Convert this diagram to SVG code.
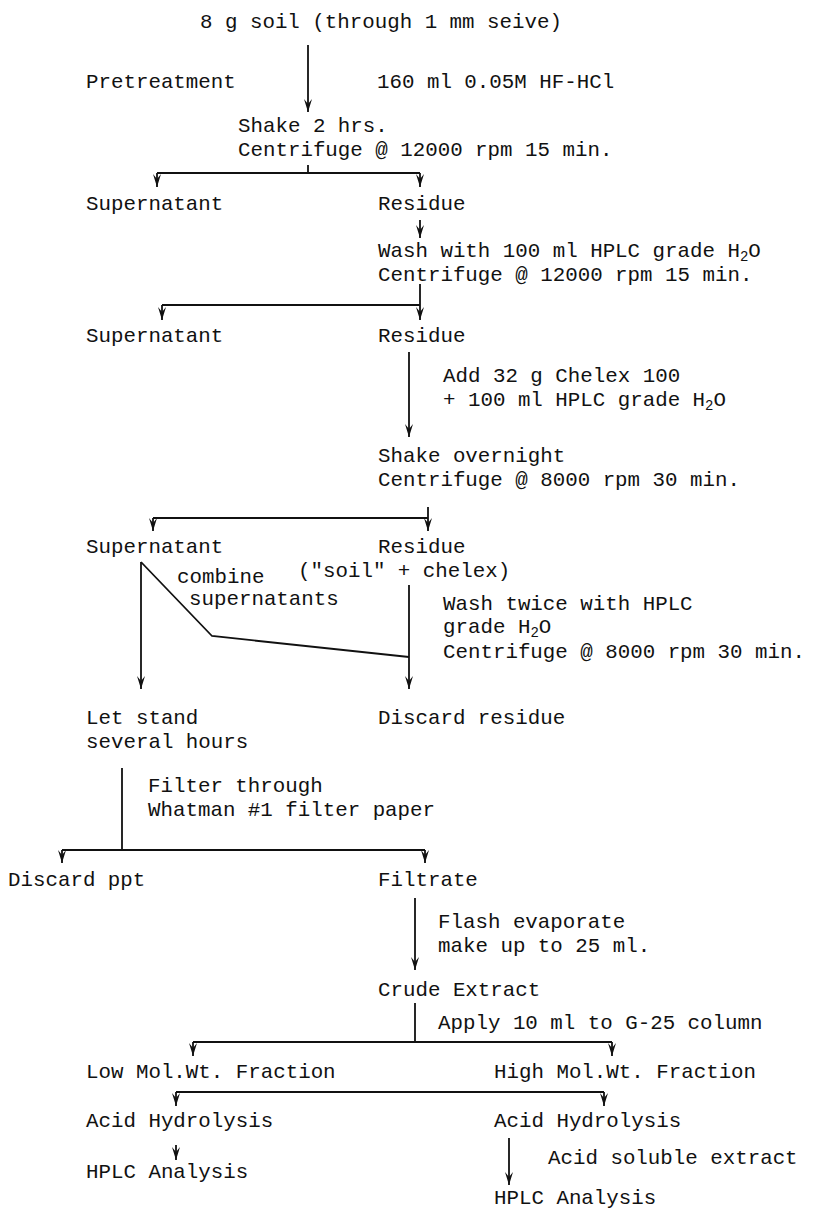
<svg xmlns="http://www.w3.org/2000/svg" width="814" height="1211" viewBox="0 0 814 1211">
<style>
text{font-family:"Liberation Mono","DejaVu Sans Mono",monospace;font-size:20.8px;fill:#111}
.c{stroke:#111;stroke-width:1.8;fill:none}
.s{font-size:14px}
</style>
<defs>
<marker id="ah" markerWidth="14" markerHeight="10" refX="13" refY="5" orient="auto" markerUnits="userSpaceOnUse" viewBox="0 0 14 10">
<path d="M0 1 L13 5 L0 9 L5 5 Z" fill="#111"/>
</marker>
</defs>
<rect width="814" height="1211" fill="#fff"/>
<g id="connectors">
<path class="c" d="M308 45 V112" marker-end="url(#ah)"/>
<path class="c" d="M308 165 V173 M157 173 H420"/>
<path class="c" d="M157 173 V187" marker-end="url(#ah)"/>
<path class="c" d="M420 173 V187" marker-end="url(#ah)"/>
<path class="c" d="M420 220 V238" marker-end="url(#ah)"/>
<path class="c" d="M420 284 V305 M162 305 H420"/>
<path class="c" d="M162 305 V320" marker-end="url(#ah)"/>
<path class="c" d="M420 305 V320" marker-end="url(#ah)"/>
<path class="c" d="M409 352 V437" marker-end="url(#ah)"/>
<path class="c" d="M428 507 V518 M153 518 H428"/>
<path class="c" d="M153 518 V531" marker-end="url(#ah)"/>
<path class="c" d="M428 518 V531" marker-end="url(#ah)"/>
<path class="c" d="M409 585 V689" marker-end="url(#ah)"/>
<path class="c" d="M141 562 V689" marker-end="url(#ah)"/>
<path class="c" d="M141 562 L212 636 L409 657"/>
<path class="c" d="M122 768 V850 M62 850 H425"/>
<path class="c" d="M62 850 V863" marker-end="url(#ah)"/>
<path class="c" d="M425 850 V863" marker-end="url(#ah)"/>
<path class="c" d="M415 898 V970" marker-end="url(#ah)"/>
<path class="c" d="M415 1003 V1042 M193 1042 H612"/>
<path class="c" d="M193 1042 V1056" marker-end="url(#ah)"/>
<path class="c" d="M612 1042 V1056" marker-end="url(#ah)"/>
<path class="c" d="M176 1092 H604"/>
<path class="c" d="M176 1092 V1106" marker-end="url(#ah)"/>
<path class="c" d="M604 1092 V1106" marker-end="url(#ah)"/>
<path class="c" d="M176 1145 V1160" marker-end="url(#ah)"/>
<path class="c" d="M509 1138 V1185" marker-end="url(#ah)"/>
</g>
<g id="n-soil"><text x="200" y="28">8 g soil (through 1 mm seive)</text></g>
<g id="l-pretreat"><text x="86" y="88">Pretreatment</text></g>
<g id="l-hfhcl"><text x="377" y="88">160 ml 0.05M HF-HCl</text></g>
<g id="n-shake1"><text x="238" y="132">Shake 2 hrs.</text><text x="238" y="156">Centrifuge @ 12000 rpm 15 min.</text></g>
<g id="n-sup1"><text x="86" y="210">Supernatant</text></g>
<g id="n-res1"><text x="378" y="210">Residue</text></g>
<g id="n-wash1"><text x="378" y="257">Wash with 100 ml HPLC grade H<tspan class="s" dy="4">2</tspan><tspan dy="-4">O</tspan></text><text x="378" y="281">Centrifuge @ 12000 rpm 15 min.</text></g>
<g id="n-sup2"><text x="86" y="342">Supernatant</text></g>
<g id="n-res2"><text x="378" y="342">Residue</text></g>
<g id="l-chelex"><text x="443" y="382">Add 32 g Chelex 100</text><text x="443" y="406">+ 100 ml HPLC grade H<tspan class="s" dy="4">2</tspan><tspan dy="-4">O</tspan></text></g>
<g id="n-shake2"><text x="378" y="462">Shake overnight</text><text x="378" y="486">Centrifuge @ 8000 rpm 30 min.</text></g>
<g id="n-sup3"><text x="86" y="553">Supernatant</text></g>
<g id="n-res3"><text x="378" y="553">Residue</text><text x="298" y="577">("soil" + chelex)</text></g>
<g id="l-combine"><text x="177" y="583">combine</text><text x="189" y="605">supernatants</text></g>
<g id="l-wash2"><text x="443" y="610">Wash twice with HPLC</text><text x="443" y="633">grade H<tspan class="s" dy="4">2</tspan><tspan dy="-4">O</tspan></text><text x="443" y="658">Centrifuge @ 8000 rpm 30 min.</text></g>
<g id="n-letstand"><text x="86" y="724">Let stand</text><text x="86" y="748">several hours</text></g>
<g id="n-discardres"><text x="378" y="724">Discard residue</text></g>
<g id="l-filter"><text x="148" y="792">Filter through</text><text x="148" y="816">Whatman #1 filter paper</text></g>
<g id="n-discardppt"><text x="8" y="886">Discard ppt</text></g>
<g id="n-filtrate"><text x="378" y="886">Filtrate</text></g>
<g id="l-flash"><text x="438" y="928">Flash evaporate</text><text x="438" y="952">make up to 25 ml.</text></g>
<g id="n-crude"><text x="378" y="996">Crude Extract</text></g>
<g id="l-apply"><text x="438" y="1029">Apply 10 ml to G-25 column</text></g>
<g id="n-low"><text x="86" y="1078">Low Mol.Wt. Fraction</text></g>
<g id="n-high"><text x="494" y="1078">High Mol.Wt. Fraction</text></g>
<g id="n-acid1"><text x="86" y="1127">Acid Hydrolysis</text></g>
<g id="n-acid2"><text x="494" y="1127">Acid Hydrolysis</text></g>
<g id="n-hplc1"><text x="86" y="1178">HPLC Analysis</text></g>
<g id="l-acidsol"><text x="548" y="1164">Acid soluble extract</text></g>
<g id="n-hplc2"><text x="494" y="1204">HPLC Analysis</text></g>
</svg>
